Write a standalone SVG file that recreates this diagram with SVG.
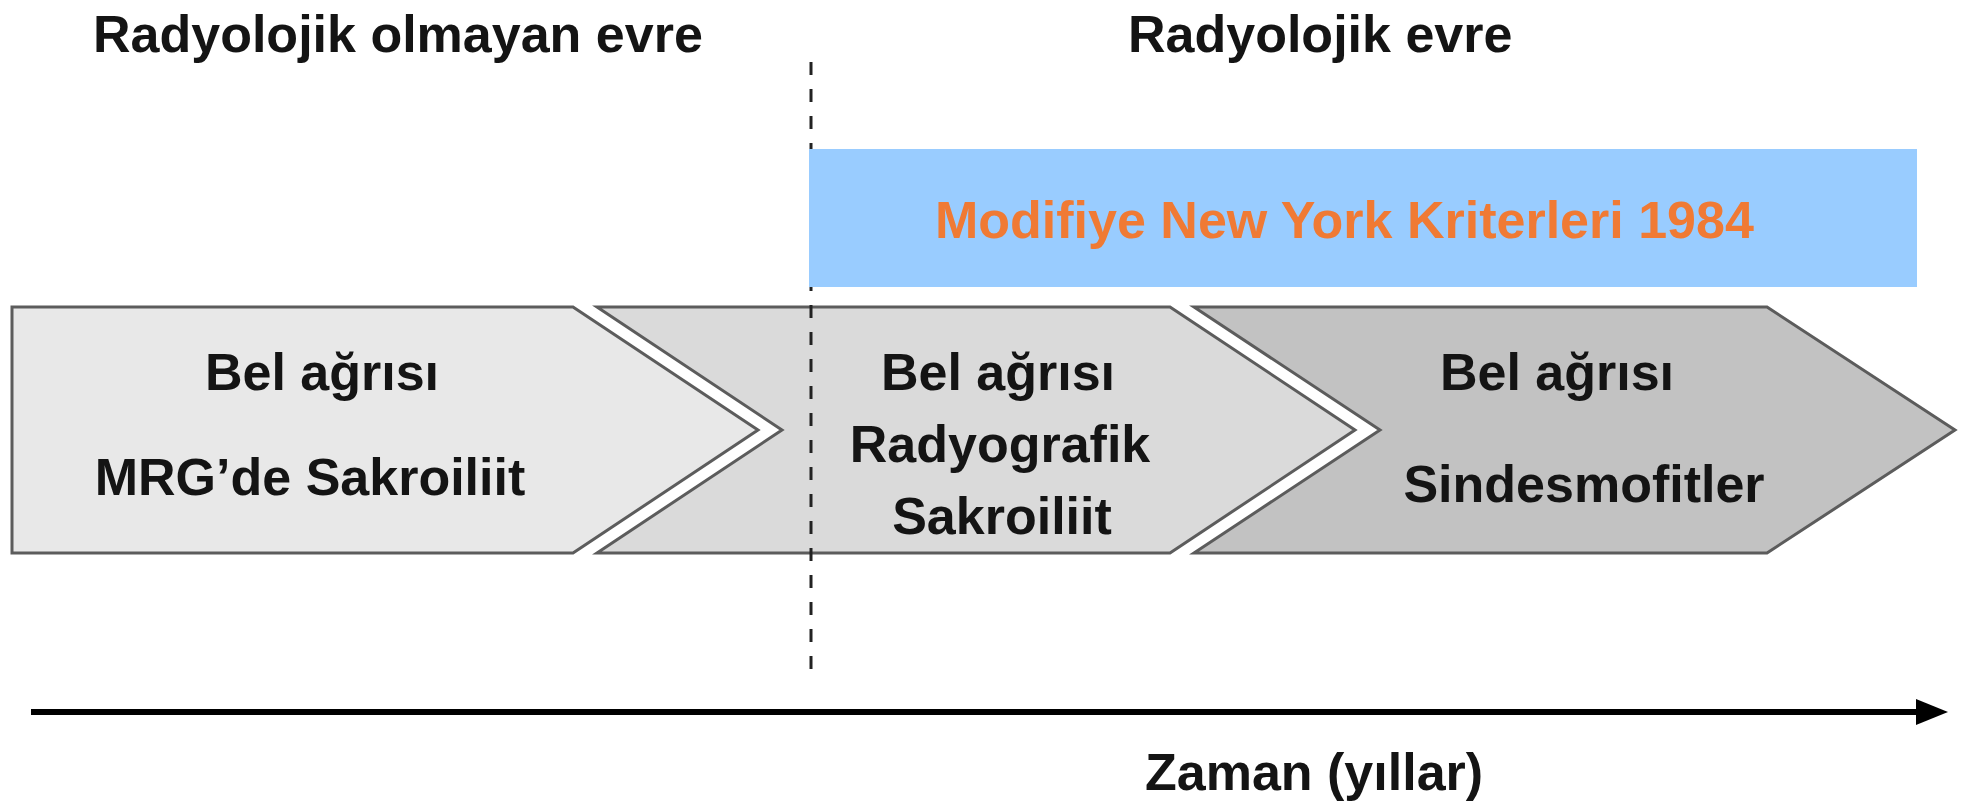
<svg xmlns="http://www.w3.org/2000/svg" width="1970" height="805" viewBox="0 0 1970 805">
  <defs>
    <style>
      text { font-family: "Liberation Sans", Arial, sans-serif; font-weight: bold; font-size: 52px; fill: #141414; }
      .mid { text-anchor: middle; }
      .crit { fill: #F07A34; }
      .chev { stroke: #5c5c5c; stroke-width: 3; stroke-linejoin: miter; }
      .divider { stroke: #222; stroke-width: 3; stroke-dasharray: 13 14; fill: none; }
      .axis { stroke: #000; stroke-width: 6; fill: none; }
    </style>
    <marker id="arrowhead" markerUnits="userSpaceOnUse" markerWidth="34" markerHeight="30" refX="4" refY="15" orient="auto">
      <path d="M0,2 L32,15 L0,28 Z" fill="#000"/>
    </marker>
  </defs>

  <rect x="0" y="0" width="1970" height="805" fill="#fff"/>

  <!-- phase headings -->
  <text id="heading-nonradiographic" x="93" y="52">Radyolojik olmayan evre</text>
  <text id="heading-radiographic" x="1128" y="52">Radyolojik evre</text>

  <!-- stage chevrons -->
  <g id="stage-1">
    <polygon class="chev" fill="#E8E8E8" points="12,307 573,307 758,430 573,553 12,553"/>
    <text class="mid" x="322" y="390">Bel ağrısı</text>
    <text class="mid" x="310" y="495">MRG’de Sakroiliit</text>
  </g>
  <g id="stage-2">
    <polygon class="chev" fill="#DADADA" points="597,307 1170,307 1355,430 1170,553 597,553 782,430"/>
    <text class="mid" x="998" y="390">Bel ağrısı</text>
    <text class="mid" x="1000" y="462">Radyografik</text>
    <text class="mid" x="1002" y="534">Sakroiliit</text>
  </g>
  <g id="stage-3">
    <polygon class="chev" fill="#C2C2C2" points="1194,307 1767,307 1955,430 1767,553 1194,553 1380,430"/>
    <text class="mid" x="1557" y="390">Bel ağrısı</text>
    <text class="mid" x="1584" y="502">Sindesmofitler</text>
  </g>

  <!-- connectors: phase divider and time axis -->
  <g id="connectors">
    <line class="divider" x1="811" y1="62" x2="811" y2="680"/>
    <line class="axis" x1="31" y1="712" x2="1920" y2="712" marker-end="url(#arrowhead)"/>
  </g>

  <!-- criteria band -->
  <g id="criteria">
    <rect x="809" y="149" width="1108" height="138" fill="#99CCFF"/>
    <text class="crit" x="935" y="238">Modifiye New York Kriterleri 1984</text>
  </g>

  <text id="axis-label" x="1145" y="790">Zaman (yıllar)</text>
</svg>
